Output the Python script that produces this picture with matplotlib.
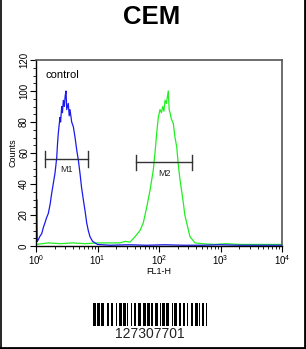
import numpy as np
import matplotlib
matplotlib.use("Agg")
import matplotlib.pyplot as plt
from matplotlib.ticker import FixedLocator, MultipleLocator, LogLocator, NullFormatter

# ---- data ----
title = "CEM"
control_label = "control"
x_label = "FL1-H"
y_label = "Counts"
barcode_text = "127307701"

# control (blue) histogram: log10(FL1-H), counts
blue_log = [0.0, 0.011, 0.02, 0.037, 0.06, 0.093, 0.12, 0.146, 0.17, 0.2, 0.23, 0.255, 0.28,
            0.309, 0.337, 0.35, 0.363, 0.39, 0.40, 0.418, 0.43, 0.444, 0.46, 0.475, 0.488,
            0.50, 0.525, 0.54, 0.553, 0.58, 0.607, 0.635, 0.662, 0.69, 0.715, 0.74, 0.769,
            0.80, 0.824, 0.85, 0.878, 0.92, 0.959, 1.0, 1.2, 1.5, 1.8, 2.1, 2.4, 2.7, 3.0,
            3.3, 3.6, 4.0]
blue_cnt = [2, 30, 3, 4, 6, 8, 12, 15, 18, 21, 27, 34, 40,
            47, 57, 66, 73, 83, 80, 90, 86, 94, 90, 97, 100,
            88, 92, 84, 88, 80, 77, 70, 62, 55, 47, 38, 30,
            22, 15, 10, 6, 3, 2, 1, 0.5, 0.8, 0.5, 0.8, 0.5, 0.5, 0.8,
            0.5, 0.5, 0.5]

# sample (green) histogram
green_log = [0.0, 0.2, 0.4, 0.6, 0.8, 1.0, 1.2, 1.366, 1.45, 1.528, 1.61, 1.691, 1.745, 1.8,
             1.854, 1.907, 1.935, 1.963, 1.989, 2.016, 2.04, 2.06, 2.08, 2.098, 2.12, 2.151,
             2.165, 2.179, 2.2, 2.233, 2.26, 2.288, 2.315, 2.341, 2.37, 2.395, 2.42, 2.45,
             2.48, 2.504, 2.585, 2.7, 2.9, 3.1, 3.3, 3.5, 3.7, 4.0]
green_cnt = [1, 2, 1.5, 2, 1.5, 2, 2, 2, 3, 2.5, 6, 10, 15, 25,
             36, 49, 60, 73, 83, 88, 86, 90, 87, 94, 92, 100,
             88, 86, 82, 79, 70, 64, 52, 43, 35, 28, 20, 15,
             10, 6, 2, 1.5, 1, 1.5, 1, 1, 1, 1]

# gate markers: (name, start, end, y)
gate_names = ["M1", "M2"]
gate_start = [1.4, 43.0]
gate_end = [6.9, 350.0]
gate_y = [56, 54]

# barcode module pattern (1 = black bar)
barcode_pattern = ("11011011001101100101101101001011011001101101001101011011001011"
                   "0110110100110110101101")

# ---- figure ----
W, H = 306, 349
fig = plt.figure(figsize=(W / 100, H / 100), dpi=100)
fig.patch.set_facecolor("white")

font = ["Liberation Sans", "DejaVu Sans"]

fig.text(152 / W, 1 - 17 / H, title, ha="center", va="center",
         fontsize=18.5, fontweight="bold", family=font)

ax = fig.add_axes([36 / W, 1 - 246 / H, 246 / W, 186 / H])
ax.set_xscale("log")
ax.set_xlim(1, 1e4)
ax.set_ylim(0, 120)

bx = np.power(10.0, blue_log)
gx = np.power(10.0, green_log)
ax.plot(gx, green_cnt, color="#22ee22", lw=0.9)
ax.plot(bx, blue_cnt, color="#1a1aee", lw=0.9)

for name, s, e, y in zip(gate_names, gate_start, gate_end, gate_y):
    ax.plot([s, e], [y, y], color="#333333", lw=1.0)
    ax.plot([s, s], [y - 5, y + 5], color="#333333", lw=1.0)
    ax.plot([e, e], [y - 5, y + 5], color="#333333", lw=1.0)
    xm = np.sqrt(s * e)
    ax.text(xm, y - 4, name, ha="center", va="top", fontsize=6.5, family=font, color="#222222")

ax.text(1.45, 110, control_label, ha="left", va="center", fontsize=8, family=font)

ax.yaxis.set_major_locator(FixedLocator([0, 20, 40, 60, 80, 100, 120]))
ax.yaxis.set_minor_locator(MultipleLocator(5))
ax.xaxis.set_major_locator(LogLocator(base=10, numticks=10))
ax.xaxis.set_minor_locator(LogLocator(base=10, subs=np.arange(2, 10), numticks=20))
ax.xaxis.set_minor_formatter(NullFormatter())

ax.tick_params(axis="both", which="major", labelsize=7, length=4, width=0.8, pad=1)
ax.tick_params(axis="both", which="minor", length=2, width=0.6)
for lab in ax.get_yticklabels():
    lab.set_rotation(90)
    lab.set_va("center")
    lab.set_family(font)
for lab in ax.get_xticklabels():
    lab.set_family(font)

for sp in ["left", "bottom"]:
    ax.spines[sp].set_color("black")
    ax.spines[sp].set_linewidth(1.0)
for sp in ["top", "right"]:
    ax.spines[sp].set_color("#555555")
    ax.spines[sp].set_linewidth(1.2)

ax.set_xlabel(x_label, fontsize=6.5, family=font, labelpad=0)
ax.set_ylabel(y_label, fontsize=6.5, family=font, labelpad=1)

# barcode
bax = fig.add_axes([93 / W, 1 - 326 / H, 114 / W, 23 / H])
mods = np.array([int(c) for c in barcode_pattern])
bax.bar(np.arange(len(mods)), mods, width=1.0, color="black", align="edge")
bax.set_xlim(0, len(mods))
bax.set_ylim(0, 1)
bax.axis("off")
fig.text(150 / W, 1 - 334 / H, barcode_text, ha="center", va="center",
         fontsize=10, family=font, color="#222222")

# outer frame
fig.add_artist(plt.Line2D([0.002, 0.002], [0, 1], color="black", lw=1.2, transform=fig.transFigure))
fig.add_artist(plt.Line2D([0.996, 0.996], [0, 1], color="black", lw=2, transform=fig.transFigure))
fig.add_artist(plt.Line2D([0, 1], [0.004, 0.004], color="black", lw=2, transform=fig.transFigure))

fig.savefig("out.png", dpi=100)
